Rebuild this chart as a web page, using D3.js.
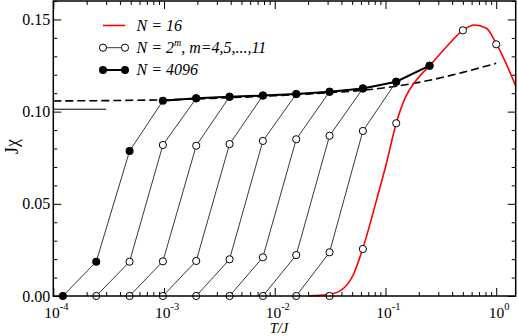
<!DOCTYPE html>
<html>
<head>
<meta charset="utf-8">
<script src="https://cdn.jsdelivr.net/npm/d3@7"></script>
<style>
  body { margin: 0; background: #fff; }
  svg { display: block; }
  svg text { font-family: "Liberation Serif", "Times New Roman", serif; fill: #000; }
</style>
</head>
<body>
<div id="chart"></div>
<script>
// temperatures T/J = 2^-13 ... 2^0
const tGrid = [0.00012207, 0.00024414, 0.00048828, 0.00097656, 0.00195313, 0.00390625,
  0.0078125, 0.015625, 0.03125, 0.0625, 0.125, 0.25, 0.5, 1];

// N = 4096 (filled)
const t4096 = tGrid.slice(0, 12);
const chi4096 = [0, 0.0186, 0.0786, 0.1059, 0.1072, 0.1081, 0.1087, 0.1095, 0.1108, 0.1126, 0.1162, 0.1249];

// N = 2^m (open), each starts at its own T0
const openN = [2048, 1024, 512, 256, 128, 64, 32];
const openT0 = [0.00024414, 0.00048828, 0.00097656, 0.00195313, 0.00390625, 0.0078125, 0.015625];
const openChi = [
  [0, 0.0186, 0.0819, 0.1072],
  [0, 0.0188, 0.0815, 0.1081],
  [0, 0.0190, 0.0824, 0.1087],
  [0, 0.0199, 0.0841, 0.1095],
  [0, 0.0210, 0.0850, 0.1108],
  [0, 0.0222, 0.0869, 0.1126],
  [0, 0.0237, 0.0895, 0.1162]
];

// N = 16 open markers (on the red curve)
const t16 = [0.03125, 0.0625, 0.125, 0.25, 0.5, 1];
const chi16 = [0, 0.0255, 0.0937, 0.1249, 0.1441, 0.1365];

// N = 16 continuous (red)
const redT = [0.02, 0.0313, 0.0401, 0.0511, 0.0625, 0.083, 0.102, 0.125, 0.152, 0.1905, 0.25, 0.356, 0.5, 0.633, 0.816, 1, 1.23, 1.5];
const redChi = [0, 0.0009, 0.0033, 0.0114, 0.0259, 0.052, 0.072, 0.0937, 0.108, 0.1171, 0.1249, 0.1352, 0.1441, 0.147, 0.1452, 0.137, 0.126, 0.1139];

// infinite chain (dashed)
const bulkT = [0.0001, 0.001, 0.003, 0.01, 0.03, 0.0625, 0.125, 0.25, 0.5, 1];
const bulkChi = [0.1058, 0.1064, 0.1073, 0.1086, 0.1102, 0.1116, 0.1138, 0.1170, 0.1213, 0.1262];

// T = 0 value
const zeroT = [0.0001, 0.0003];
const zeroChi = [0.1013, 0.1013];

const xMajor = [1e-4, 1e-3, 1e-2, 1e-1, 1];
const xExp = ["-4", "-3", "-2", "-1", "0"];
const yMajor = [0, 0.05, 0.10, 0.15];

const width = 518, height = 336;
const plotLeft = 53.3, plotRight = 515.7, plotTop = 1, plotBottom = 296;

const svg = d3.select("#chart").append("svg")
  .attr("width", width).attr("height", height);

const x = d3.scaleLog().domain([1e-4, 1.5]).range([plotLeft, plotRight]);
const y = d3.scaleLinear().domain([0, 0.16]).range([plotBottom, plotTop]);

// minor ticks
const xMinor = [];
[1e-4, 1e-3, 1e-2, 1e-1].forEach(d => { for (let k = 2; k <= 9; k++) xMinor.push(d * k); });
const yMinor = d3.range(0, 0.1601, 0.01).filter(v => Math.abs(v * 20 - Math.round(v * 20)) > 1e-6);

function tickAxis(axis, vals, size, tr) {
  const g = svg.append("g").attr("transform", tr)
    .call(axis.tickValues(vals).tickSize(size).tickSizeOuter(0).tickFormat(""));
  g.select(".domain").remove();
  g.selectAll("line").attr("stroke", "#000").attr("stroke-width", 1);
  return g;
}
tickAxis(d3.axisBottom(x), xMajor, -8, `translate(0,${plotBottom})`);
tickAxis(d3.axisBottom(x), xMinor, -4, `translate(0,${plotBottom})`);
tickAxis(d3.axisTop(x), xMajor, -8, `translate(0,${plotTop})`);
tickAxis(d3.axisTop(x), xMinor, -4, `translate(0,${plotTop})`);
tickAxis(d3.axisRight(y), yMajor, -8, `translate(${plotRight},0)`);
tickAxis(d3.axisRight(y), yMinor, -4, `translate(${plotRight},0)`);
tickAxis(d3.axisLeft(y), yMinor, -4, `translate(${plotLeft},0)`);

const yAxis = svg.append("g").attr("transform", `translate(${plotLeft},0)`)
  .call(d3.axisLeft(y).tickValues(yMajor).tickSize(-8).tickSizeOuter(0).tickFormat(d3.format(".2f")));
yAxis.select(".domain").remove();
yAxis.selectAll("line").attr("stroke", "#000");
yAxis.selectAll("text").attr("x", -3).attr("font-size", 16);

// x labels with superscripts
xMajor.forEach((d, i) => {
  const t = svg.append("text")
    .attr("x", x(d) + 3).attr("y", 317.5)
    .attr("text-anchor", "middle")
    .style("font-size", "15.5px");
  t.append("tspan").text("10");
  t.append("tspan").attr("dy", -8).style("font-size", "10.5px").text(xExp[i]);
});

svg.append("text")
  .attr("x", 279).attr("y", 333)
  .attr("text-anchor", "middle")
  .style("font-size", "14.5px").style("font-style", "italic")
  .text("T/J");

svg.append("text")
  .attr("transform", `translate(18,${(plotTop + plotBottom) / 2 - 2}) rotate(-90)`)
  .attr("text-anchor", "middle")
  .style("font-size", "18px")
  .text("Jχ");

// data
const line = d3.line().x(d => x(d[0])).y(d => y(d[1]));
const smooth = d3.line().x(d => x(d[0])).y(d => y(d[1])).curve(d3.curveMonotoneX);

svg.append("path")
  .datum(d3.zip(bulkT, bulkChi))
  .attr("d", smooth)
  .attr("fill", "none").attr("stroke", "#000")
  .attr("stroke-width", 1.6).attr("stroke-dasharray", "8,4");

const openSeries = openN.map((n, i) => {
  const start = tGrid.indexOf(openT0[i]);
  return openChi[i].map((c, j) => [tGrid[start + j], c]);
});

openSeries.forEach(s => {
  svg.append("path").datum(s).attr("d", line)
    .attr("fill", "none").attr("stroke", "#222").attr("stroke-width", 0.9);
});

svg.append("path")
  .datum(d3.zip(redT, redChi))
  .attr("d", smooth)
  .attr("fill", "none").attr("stroke", "#ff0000").attr("stroke-width", 1.6);

svg.append("path")
  .datum(d3.zip(zeroT, zeroChi))
  .attr("d", line)
  .attr("fill", "none").attr("stroke", "#000").attr("stroke-width", 1);

const openPts = openSeries.flat().concat(d3.zip(t16, chi16));
svg.append("g").selectAll("circle")
  .data(openPts).join("circle")
  .attr("cx", d => x(d[0])).attr("cy", d => y(d[1])).attr("r", 3.6)
  .attr("fill", "#fff").attr("stroke", "#000").attr("stroke-width", 1);

const big = d3.zip(t4096, chi4096);
// rising part thin, converged envelope thick
svg.append("path").datum(big).attr("d", line)
  .attr("fill", "none").attr("stroke", "#222").attr("stroke-width", 0.9);
svg.append("path").datum(big.filter(d => d[1] > 0.1)).attr("d", line)
  .attr("fill", "none").attr("stroke", "#000").attr("stroke-width", 2);
svg.append("g").selectAll("circle")
  .data(big).join("circle")
  .attr("cx", d => x(d[0])).attr("cy", d => y(d[1])).attr("r", 4)
  .attr("fill", "#000");

// frame
svg.append("rect")
  .attr("x", plotLeft).attr("y", plotTop)
  .attr("width", plotRight - plotLeft).attr("height", plotBottom - plotTop)
  .attr("fill", "none").attr("stroke", "#000").attr("stroke-width", 1.5);

// legend
const lx1 = 103, lx2 = 125, tx = 136.5;
const leg = svg.append("g");
leg.append("line").attr("x1", lx1).attr("x2", lx2).attr("y1", 25.5).attr("y2", 25.5)
  .attr("stroke", "#ff0000").attr("stroke-width", 1.6);
leg.append("text").attr("x", tx).attr("y", 30.5).style("font-size", "16px").style("font-style", "italic")
  .text("N = 16");

leg.append("line").attr("x1", lx1).attr("x2", lx2).attr("y1", 47.7).attr("y2", 47.7)
  .attr("stroke", "#222").attr("stroke-width", 0.9);
[lx1, lx2].forEach(cx => leg.append("circle").attr("cx", cx).attr("cy", 47.7).attr("r", 3.6)
  .attr("fill", "#fff").attr("stroke", "#000"));
const t2 = leg.append("text").attr("x", tx).attr("y", 52.5).style("font-size", "16px").style("font-style", "italic");
t2.append("tspan").text("N = 2");
t2.append("tspan").attr("dy", -7).style("font-size", "10px").text("m");
t2.append("tspan").attr("dy", 7).text(", m=4,5,...,11");

leg.append("line").attr("x1", lx1).attr("x2", lx2).attr("y1", 70).attr("y2", 70)
  .attr("stroke", "#000").attr("stroke-width", 2);
[lx1, lx2].forEach(cx => leg.append("circle").attr("cx", cx).attr("cy", 70).attr("r", 4).attr("fill", "#000"));
leg.append("text").attr("x", tx).attr("y", 74.5).style("font-size", "16px").style("font-style", "italic")
  .text("N = 4096");
</script>
</body>
</html>
